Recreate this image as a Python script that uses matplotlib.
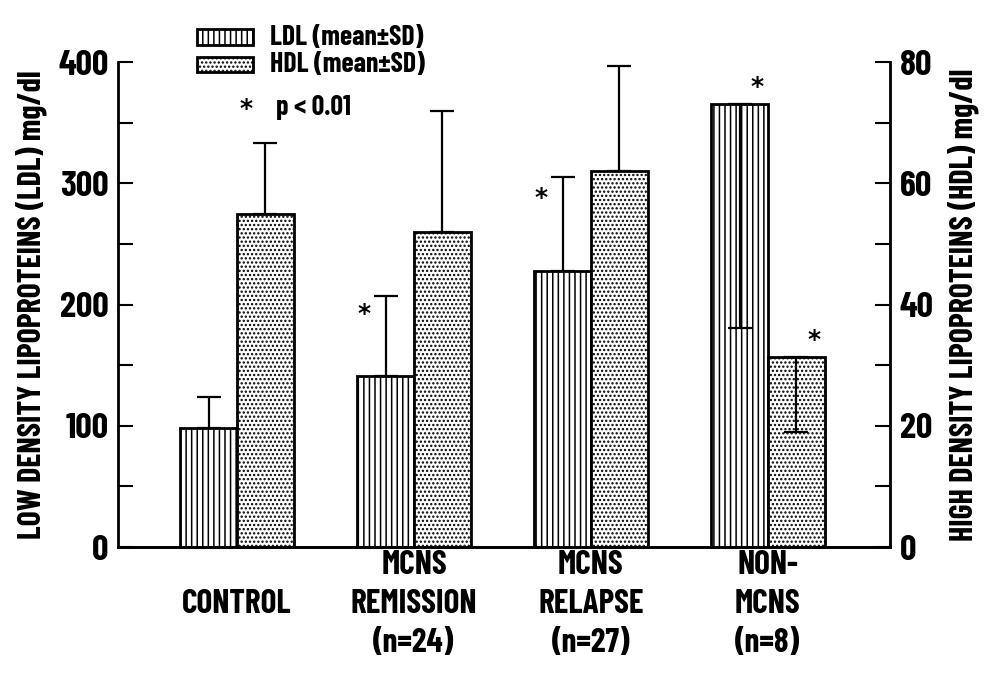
import matplotlib
matplotlib.use("Agg")
import matplotlib.pyplot as plt
from matplotlib.patches import Rectangle
from matplotlib.ticker import MultipleLocator

# lipoprotein levels by patient group
groups = ["CONTROL", "MCNS\nREMISSION\n(n=24)", "MCNS\nRELAPSE\n(n=27)", "NON-\nMCNS\n(n=8)"]
ldl_mean = [98, 141, 228, 365]        # mg/dl, left axis
ldl_sd = [26, 66, 77, 184]
hdl_mean = [55.0, 52.0, 62.0, 31.3]   # mg/dl, right axis
hdl_sd = [11.6, 20.0, 17.3, 12.3]
sd_side = [1, 1, 1, -1]               # +1 bar drawn upward, -1 drawn into the bar
ldl_star = [False, True, True, True]
hdl_star = [False, False, False, True]

FONT = ["Barlow Condensed", "DejaVu Sans"]
plt.rcParams["font.family"] = FONT
plt.rcParams["font.weight"] = "bold"
plt.rcParams["axes.labelweight"] = "bold"
plt.rcParams["hatch.linewidth"] = 1.1
plt.rcParams["hatch.color"] = "black"

LDL_HATCH = "|||"
HDL_HATCH = "...."

fig = plt.figure(figsize=(9.91, 6.75), dpi=100)
ax = fig.add_axes([0.1191, 0.1896, 0.779, 0.7185])
ax2 = ax.twinx()

x = list(range(len(groups)))
w = 0.32
xl = [i - w / 2 for i in x]
xh = [i + w / 2 for i in x]

ax.bar(xl, ldl_mean, width=w, facecolor="white", edgecolor="black",
       linewidth=2, hatch=LDL_HATCH, zorder=2)
ax2.bar(xh, hdl_mean, width=w, facecolor="white", edgecolor="black",
        linewidth=2, hatch=HDL_HATCH, zorder=2)

for i in x:
    lo, hi = (0, ldl_sd[i]) if sd_side[i] > 0 else (ldl_sd[i], 0)
    ax.errorbar(xl[i], ldl_mean[i], yerr=[[lo], [hi]], fmt="none", ecolor="black",
                elinewidth=1.6, capsize=8.5, capthick=1.6, zorder=3)
    lo, hi = (0, hdl_sd[i]) if sd_side[i] > 0 else (hdl_sd[i], 0)
    ax2.errorbar(xh[i], hdl_mean[i], yerr=[[lo], [hi]], fmt="none", ecolor="black",
                 elinewidth=1.6, capsize=8.5, capthick=1.6, zorder=3)

# significance marks
star_kw = dict(ha="center", va="center", fontsize=18, family=["DejaVu Sans"], fontweight="bold")
for i in x:
    if ldl_star[i]:
        if sd_side[i] > 0:
            # left of the SD whisker, just under its cap
            ax.text(xl[i] - 0.12, ldl_mean[i] + ldl_sd[i] * 0.78, "*", **star_kw)
        else:
            ax.text(xl[i] + 0.1, ldl_mean[i] + 14, "*", **star_kw)
    if hdl_star[i]:
        ax2.text(xh[i] + 0.1, hdl_mean[i] + 2.8, "*", **star_kw)

ax.set_xlim(-0.672, 3.69)
ax.set_ylim(0, 400)
ax2.set_ylim(0, 80)

for a in (ax, ax2):
    a.spines["top"].set_visible(False)
    for s in ("left", "right", "bottom"):
        a.spines[s].set_linewidth(2)
ax.spines["right"].set_visible(False)
ax2.spines["left"].set_visible(False)

ax.set_xticks([])
ax.yaxis.set_major_locator(MultipleLocator(100))
ax.yaxis.set_minor_locator(MultipleLocator(50))
ax2.yaxis.set_major_locator(MultipleLocator(20))
ax2.yaxis.set_minor_locator(MultipleLocator(10))
for a in (ax, ax2):
    a.tick_params(axis="y", which="both", direction="in", length=11, width=1.5,
                  labelsize=26, pad=7)

ax.set_ylabel("LOW DENSITY LIPOPROTEINS (LDL) mg/dl", fontsize=23, labelpad=8)
ax2.set_ylabel("HIGH DENSITY LIPOPROTEINS (HDL) mg/dl", fontsize=23, labelpad=10)

# group names under the baseline
for i, name in enumerate(groups):
    ax.text(i, -0.118, name, transform=ax.get_xaxis_transform(), ha="center",
            va="center", ma="center", fontsize=24, linespacing=1.38)

# key
fig.add_artist(Rectangle((0.1988, 0.9333), 0.0565, 0.0237, transform=fig.transFigure,
                         facecolor="white", edgecolor="black", linewidth=2, hatch=LDL_HATCH))
fig.add_artist(Rectangle((0.1988, 0.8933), 0.0565, 0.0222, transform=fig.transFigure,
                         facecolor="white", edgecolor="black", linewidth=2, hatch=HDL_HATCH))
fig.text(0.2725, 0.945, "LDL (mean\u00b1SD)", va="center", fontsize=20)
fig.text(0.2725, 0.904, "HDL (mean\u00b1SD)", va="center", fontsize=20)
fig.text(0.248, 0.838, "*", ha="center", va="center", fontsize=18,
         family=["DejaVu Sans"], fontweight="bold")
fig.text(0.279, 0.84, "p < 0.01", va="center", fontsize=20)

fig.savefig("out.png", dpi=100)
plt.close(fig)
